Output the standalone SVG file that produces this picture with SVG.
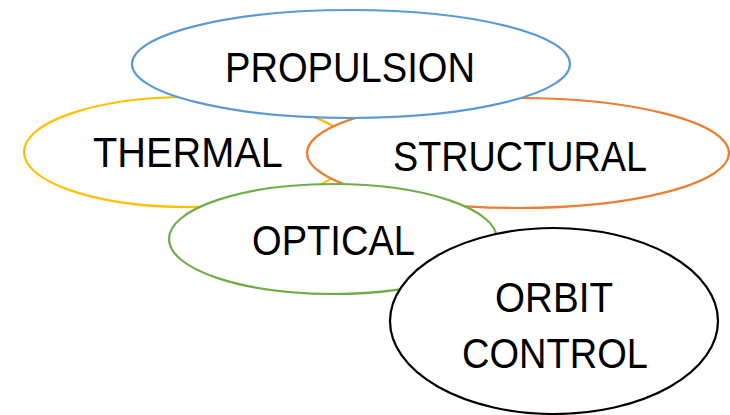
<svg xmlns="http://www.w3.org/2000/svg" width="730" height="415" viewBox="0 0 730 415">
<style>
.n{fill:#fff;stroke-width:2.2}
.t{font-family:"Liberation Sans",Arial,sans-serif;font-size:42px;fill:#000;text-anchor:middle}
</style>
<rect width="730" height="415" fill="#fff"/>
<g id="thermal">
<ellipse class="n" cx="188" cy="152" rx="164" ry="55" stroke="#FFC000"/>
<text class="t" x="188" y="167" textLength="190" lengthAdjust="spacingAndGlyphs">THERMAL</text>
</g>
<g id="structural">
<ellipse class="n" cx="518" cy="153" rx="211" ry="55" stroke="#ED7D31"/>
<text class="t" x="520" y="171" textLength="254" lengthAdjust="spacingAndGlyphs">STRUCTURAL</text>
</g>
<g id="propulsion">
<ellipse class="n" cx="351" cy="64" rx="219" ry="54" stroke="#5B9BD5"/>
<text class="t" x="350" y="82" textLength="250" lengthAdjust="spacingAndGlyphs">PROPULSION</text>
</g>
<g id="optical">
<ellipse class="n" cx="333" cy="239" rx="164" ry="55" stroke="#70AD47"/>
<text class="t" x="333.5" y="255" textLength="163" lengthAdjust="spacingAndGlyphs">OPTICAL</text>
</g>
<g id="orbit-control">
<ellipse class="n" cx="554" cy="321" rx="164" ry="93" stroke="#000" stroke-width="2.6"/>
<text class="t" x="554" y="312" textLength="118" lengthAdjust="spacingAndGlyphs">ORBIT</text>
<text class="t" x="555" y="368" textLength="186" lengthAdjust="spacingAndGlyphs">CONTROL</text>
</g>
<g id="connectors"></g>
</svg>
